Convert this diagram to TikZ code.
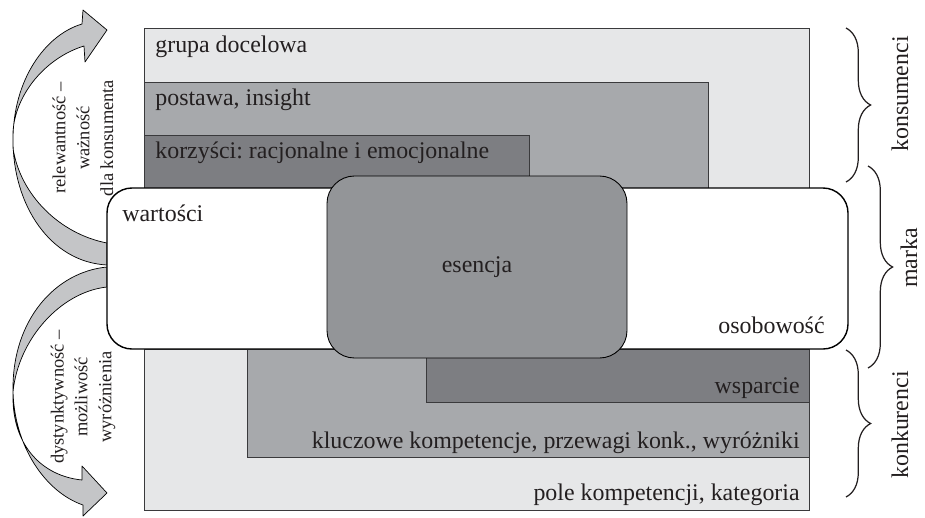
\documentclass[tikz,border=0pt]{standalone}
\usepackage{fontspec}
\setmainfont{Liberation Serif}
\frenchspacing
\usetikzlibrary{positioning, decorations.pathreplacing}
\definecolor{paleGray}{HTML}{E6E7E8}
\definecolor{midGray}{HTML}{A7A9AC}
\definecolor{deepGray}{HTML}{7D7E82}
\definecolor{coreGray}{HTML}{939598}
\definecolor{arrowGray}{HTML}{C4C5C7}
\definecolor{lineGray}{HTML}{3A3A3C}
\definecolor{inkGray}{HTML}{231F20}
\tikzset{%
  layer/.style={draw=lineGray, line width=0.5pt},
  boxtext/.style={font=\fontsize{13.6}{16}\selectfont, text=inkGray, inner sep=0pt},
  sidetext/.style={font=\fontsize{10.5}{13.6}\selectfont, text=inkGray, align=center, rotate=90, inner sep=0pt},
  bracetext/.style={font=\fontsize{13.6}{16}\selectfont, text=inkGray, rotate=90, inner sep=0pt},
  brandbox/.style={draw=black, fill=white, line width=0.8pt, rounded corners=5mm, minimum width=148.2mm, minimum height=32.2mm},
  corebox/.style={draw=black, fill=coreGray, line width=0.5pt, rounded corners=5.5mm, minimum width=60mm, minimum height=36.4mm, font=\fontsize{13.6}{16}\selectfont, text=inkGray},
  bendarrow/.style={draw=black, line width=0.4pt, fill=arrowGray, line join=round},
  sidebrace/.style={draw=inkGray, line width=0.7pt, decorate, decoration={brace, amplitude=14pt}}}

\begin{document}
\begin{tikzpicture}[x=0.2mm, y=-0.2mm]
    \useasboundingbox (0,0) rectangle (925,517);
    % Consumer side: target group, attitude, benefits
    \draw[layer, fill=paleGray] (144,28) rectangle (809,510);
    \draw[layer, fill=midGray] (144,82) rectangle (708,349);
    \draw[layer, fill=deepGray] (144,135) rectangle (529,190);
    % Competitor side: key competences, support
    \draw[layer, fill=midGray] (247,349) rectangle (809,457);
    \draw[layer, fill=deepGray] (426,349) rectangle (809,402);
    \node (grupa) [boxtext, anchor=base west] at (155,52) {grupa docelowa};
    \node (postawa) [boxtext, anchor=base west] at (155,105) {postawa, insight};
    \node (korzysci) [boxtext, anchor=base west] at (155,158) {korzyści: racjonalne i emocjonalne};
    \node (wsparcie) [boxtext, anchor=base east] at (800,393) {wsparcie};
    \node (kluczowe) [boxtext, anchor=base east] at (800,448) {kluczowe kompetencje, przewagi konk., wyróżniki};
    \node (pole) [boxtext, anchor=base east] at (800,500) {pole kompetencji, kategoria};
    % Curved arrows on the left
    \filldraw[bendarrow] (107,265) .. controls (50,262) and (13,205) .. (13,140)
      .. controls (13,80) and (45,35) .. (82,24) -- (83,10) -- (107,30) -- (85,62) -- (84,46)
      .. controls (45,58) and (15,95) .. (13,132) -- (13,148)
      .. controls (20,195) and (60,234) .. (107,243) -- cycle;
    \filldraw[bendarrow] (107,267) .. controls (55,272) and (13,320) .. (13,388)
      .. controls (13,445) and (45,492) .. (83,505) -- (83,516) -- (107,493) -- (82,466) -- (82,480)
      .. controls (42,476) and (14,446) .. (13,400) -- (13,392)
      .. controls (18,340) and (60,292) .. (107,287) -- cycle;
    \node (relewantnosc) [sidetext] at (83,138) {relewantność –\\ważność\\dla konsumenta};
    \node (dystynktywnosc) [sidetext] at (83,397) {dystynktywność –\\możliwość\\wyróżnienia};
    % Brand layer with its essence
    \node (brand) [brandbox] at (477.5,268.5) {};
    \node (wartosci) [boxtext, anchor=base west] at (122,221) {wartości};
    \node (osobowosc) [boxtext, anchor=base east] at (825,333) {osobowość};
    \node (esencja) [corebox] at (477,267) {esencja};
    % Braces on the right
    \coordinate (konsA) at (846,28);
    \coordinate (konsB) at (846,182);
    \coordinate (markaA) at (868,166);
    \coordinate (markaB) at (868,368);
    \coordinate (konkA) at (846,350);
    \coordinate (konkB) at (846,497);
    \draw[sidebrace] (konsA) -- (konsB);
    \draw[sidebrace] (markaA) -- (markaB);
    \draw[sidebrace] (konkA) -- (konkB);
    \node (konsumenci) [bracetext] at (900,94) {konsumenci};
    \node (marka) [bracetext] at (909,258) {marka};
    \node (konkurenci) [bracetext] at (900,425) {konkurenci};
\end{tikzpicture}
\end{document}
